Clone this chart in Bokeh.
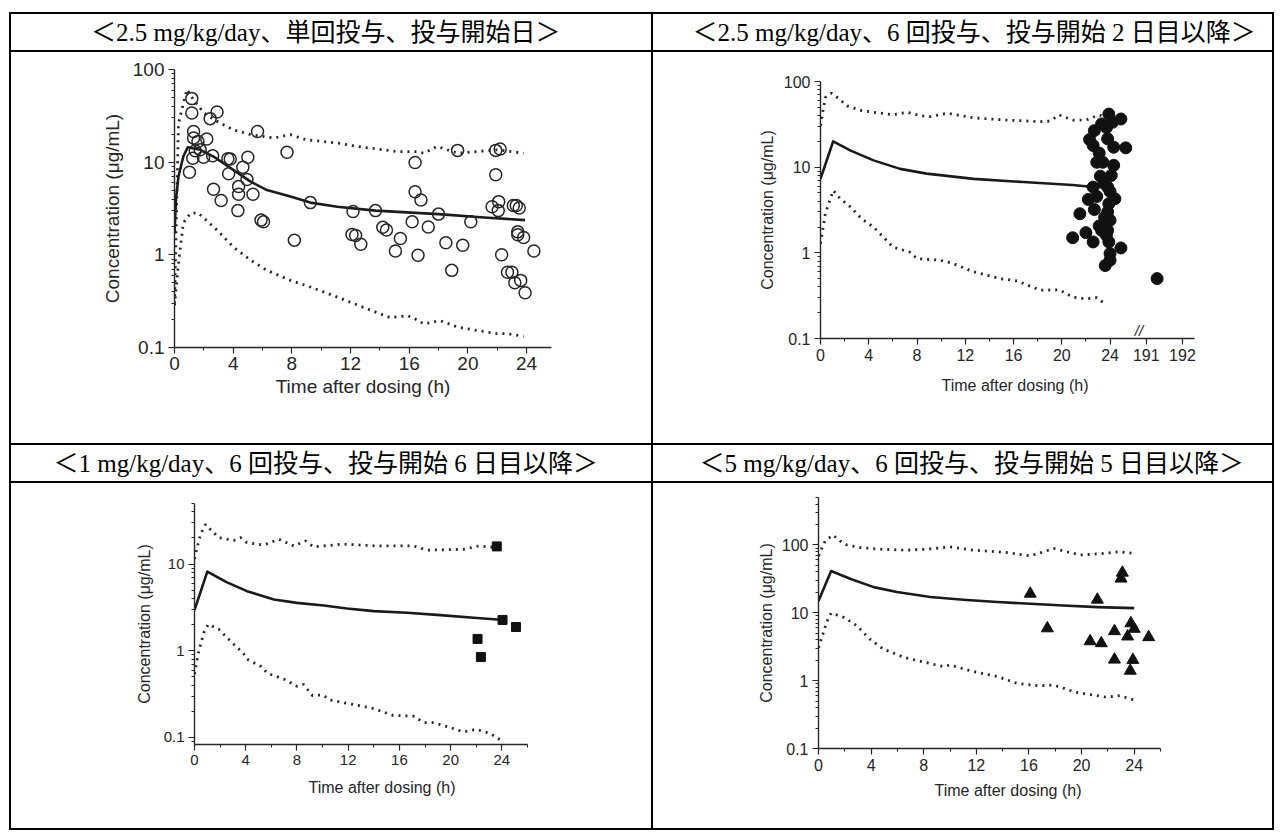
import numpy as np
from bokeh.plotting import figure
from bokeh.layouts import row, column
from bokeh.models import Range1d, FixedTicker, NumeralTickFormatter, Spacer, Label, Title
from bokeh.core.properties import value
from bokeh.embed import file_html
from bokeh.resources import INLINE

# ---------------- text ----------------
HEADERS = [
    "＜2.5 mg/kg/day、単回投与、投与開始日＞",
    "＜2.5 mg/kg/day、6 回投与、投与開始 2 日目以降＞",
    "＜1 mg/kg/day、6 回投与、投与開始 6 日目以降＞",
    "＜5 mg/kg/day、6 回投与、投与開始 5 日目以降＞",
]
X_TITLE = "Time after dosing (h)"
Y_TITLE = "Concentration (μg/mL)"
X_MAJOR = [0, 4, 8, 12, 16, 20, 24]

# ---------------- panel A : 2.5 mg/kg/day single dose ----------------
A_med_t = [0, 0.1, 0.27, 0.6, 0.9, 1.75, 2.66, 3.98, 5.16, 6.3, 7.9, 9.26, 11.1, 13.7, 18.0, 21.1, 23.9]
A_med_c = [1.7, 4.0, 7.0, 11.5, 14.5, 13.6, 11.5, 8.3, 6.2, 5.0, 4.25, 3.66, 3.3, 3.0, 2.75, 2.53, 2.37]
A_hi_t = [0, 0.27, 0.84, 1.3, 2.0, 2.9, 4.0, 5.2, 6.75, 7.9, 9.0, 11.1, 12.4, 13.8, 15.2, 16.5, 17.0, 17.9, 19.3, 20.6, 22.0, 23.8]
A_hi_c = [0.3, 26, 61, 47, 34, 27.6, 22.4, 19.8, 18.2, 19.8, 17.4, 16.1, 14.8, 13.9, 13.0, 13.0, 12.5, 14.8, 12.5, 13.0, 13.6, 12.5]
A_lo_t = [0, 0.27, 0.6, 1.07, 1.6, 2.9, 4.0, 5.2, 6.3, 7.9, 9.26, 11.1, 12.9, 14.7, 15.9, 16.5, 17.0, 18.1, 19.3, 20.6, 22.0, 22.7, 23.8]
A_lo_c = [0.285, 0.8, 2.2, 2.8, 2.85, 1.85, 1.22, 0.875, 0.68, 0.53, 0.45, 0.35, 0.27, 0.21, 0.22, 0.2, 0.18, 0.195, 0.166, 0.153, 0.141, 0.141, 0.132]
A_obs_t = [1.18, 1.18, 2.9, 2.43, 5.66, 1.3, 1.3, 1.6, 2.2, 1.75, 1.41, 1.25, 1.98, 1.02, 2.6, 3.64, 3.8, 5.0,
           4.66, 4.94, 3.69, 2.66, 3.18, 4.37, 4.37, 5.35, 4.32, 5.9, 6.07, 7.67, 8.17, 9.26, 12.17, 12.1, 12.35,
           12.7, 13.7, 14.2, 14.45, 15.4, 15.06, 16.2, 16.4, 16.4, 16.8, 16.6, 17.3, 18.0, 18.5, 18.9, 19.65,
           19.3, 20.2, 21.9, 22.2, 21.9, 21.65, 22.1, 22.07, 22.3, 22.7, 23.0, 23.2, 23.6, 23.9, 23.1, 23.3,
           23.5, 23.4, 23.4, 23.8, 24.5]
A_obs_c = [48.5, 34, 34.8, 29.5, 21.4, 21.4, 18.2, 16.7, 17.8, 13.6, 13.3, 11.0, 11.3, 7.8, 11.7, 10.9, 10.8, 11.3,
           8.8, 6.5, 7.5, 5.1, 3.85, 5.45, 4.5, 4.5, 3.0, 2.37, 2.27, 12.8, 1.44, 3.66, 2.93, 1.66, 1.62,
           1.3, 3.0, 1.98, 1.85, 1.5, 1.1, 2.27, 9.9, 4.8, 3.9, 0.99, 2.0, 2.75, 1.35, 0.68, 1.27,
           13.4, 2.27, 13.4, 13.9, 7.3, 3.3, 3.75, 3.0, 1.0, 0.65, 0.65, 0.5, 0.53, 0.39, 3.4, 3.4,
           3.2, 1.77, 1.65, 1.54, 1.1]

# ---------------- panel B : 2.5 mg/kg/day x6, day 2+ ----------------
B_med_t = [0, 1.05, 2.5, 4.4, 6.6, 8.8, 12.7, 16.8, 20.9, 22.2, 24.0]
B_med_c = [7.3, 20.0, 15.6, 12.0, 9.55, 8.4, 7.3, 6.7, 6.2, 5.95, 5.8]
B_hi_t = [0, 0.4, 0.9, 1.4, 2.2, 3.4, 4.4, 6.0, 7.2, 8.3, 9.1, 10.5, 12.7, 15.4, 18.2, 19.0, 19.8, 20.9, 22.0, 23.1, 23.7]
B_hi_c = [30.5, 65, 73, 65, 52, 45.7, 43.7, 41, 43.7, 39.8, 38.9, 42.6, 37.6, 35.5, 34, 34.5, 40.7, 35.5, 35.5, 40.7, 38.2]
B_lo_t = [0, 0.4, 1.05, 1.65, 2.5, 3.4, 4.4, 6.0, 7.4, 8.0, 9.9, 11.0, 12.7, 14.9, 16.3, 18.2, 19.8, 20.9, 22.0, 22.9, 23.7]
B_lo_c = [1.28, 2.86, 5.35, 4.27, 3.42, 2.5, 2.0, 1.17, 1.02, 0.855, 0.82, 0.75, 0.6, 0.5, 0.47, 0.366, 0.37, 0.305, 0.29, 0.3, 0.245]
B_obs_t = [20.9, 21.5, 22.0, 22.2, 22.3, 22.6, 22.6, 22.7, 22.7, 22.6, 22.9, 22.9, 23.1, 23.1, 23.2, 23.3, 23.4,
           23.55, 23.5, 23.6, 23.7, 23.7, 23.8, 23.8, 23.8, 23.9, 24.0, 24.0, 23.9, 23.8, 23.9, 24.0, 24.1, 24.2,
           24.3, 24.3, 24.4, 24.9, 24.9, 25.3, 24.0, 23.3, 191.3]
B_obs_c = [1.5, 2.86, 1.72, 4.2, 21, 1.34, 17.9, 26.7, 3.2, 5.85, 11.4, 4.55, 2.06, 14.6, 7.85, 32, 11.4,
           2.6, 6.5, 0.71, 1.6, 29, 21.4, 5.85, 3.0, 41.7, 0.98, 0.82, 1.34, 1.83, 3.74, 5.2, 8.0, 33.4,
           17.1, 10.5, 4.28, 1.14, 36.5, 16.8, 2.4, 1.83, 0.5]
B_late_ticks = [191, 192]

# ---------------- panel C : 1 mg/kg/day x6, day 6+ ----------------
C_med_t = [0, 1.0, 2.5, 4.1, 6.2, 8.0, 10.1, 11.9, 14.0, 16.6, 19.2, 21.8, 23.9]
C_med_c = [2.95, 8.2, 6.2, 4.87, 3.9, 3.57, 3.33, 3.08, 2.87, 2.75, 2.58, 2.41, 2.28]
C_hi_t = [0, 0.08, 0.47, 0.86, 1.25, 1.9, 3.07, 3.6, 4.1, 5.4, 6.6, 7.75, 8.66, 9.3, 11.6, 14.25, 17.1, 18.15, 21.0, 22.2, 23.6]
C_hi_c = [11.5, 13, 22, 28.7, 25, 20.2, 18.8, 20.2, 17.7, 16.6, 19.3, 16.2, 18.5, 15.8, 17, 16.2, 16.2, 14.5, 14.8, 16.2, 15.5]
C_lo_t = [0, 0.34, 0.73, 1.07, 1.9, 2.8, 3.85, 4.1, 5.2, 5.7, 7.0, 8.0, 8.5, 9.2, 10.0, 10.6, 12.4, 14.0, 15.5,
          17.1, 17.9, 18.7, 20.2, 21.0, 22.0, 23.1, 23.9]
C_lo_c = [0.54, 1.0, 1.62, 2.02, 1.77, 1.3, 0.92, 0.8, 0.66, 0.55, 0.47, 0.39, 0.41, 0.305, 0.31, 0.27, 0.24,
          0.215, 0.18, 0.176, 0.149, 0.148, 0.127, 0.116, 0.124, 0.111, 0.093]
C_obs_t = [23.6, 24.05, 25.1, 22.1, 22.36]
C_obs_c = [16.0, 2.27, 1.88, 1.37, 0.846]

# ---------------- panel D : 5 mg/kg/day x6, day 5+ ----------------
D_med_t = [0, 0.96, 2.4, 4.2, 5.96, 8.5, 11.0, 13.6, 16.1, 18.6, 21.2, 24.0]
D_med_c = [14.9, 41.3, 31.8, 23.9, 20.2, 17.1, 15.6, 14.4, 13.6, 12.8, 12.1, 11.7]
D_hi_t = [0, 0.5, 1.1, 1.65, 2.15, 3.2, 4.7, 6.7, 8.2, 10.0, 11.8, 14.3, 16.1, 17.9, 19.9, 21.9, 22.9, 24.0]
D_hi_c = [69, 114, 140, 114, 100, 91.5, 86.5, 83.7, 86.5, 93.5, 83.7, 77.3, 69, 88.4, 71, 75.5, 79.5, 74.6]
D_lo_t = [0, 0.38, 0.63, 0.96, 1.9, 2.9, 3.9, 4.9, 6.5, 7.5, 9.5, 10.0, 11.7, 13.6, 15.1, 16.7, 17.9, 19.6, 21.2, 21.9, 22.9, 24.0]
D_lo_c = [3.04, 5.2, 7.3, 9.9, 8.6, 6.5, 4.1, 2.94, 2.2, 1.98, 1.61, 1.7, 1.37, 1.15, 0.91, 0.84, 0.86, 0.67, 0.6, 0.57, 0.6, 0.52]
D_obs_t = [16.1, 17.4, 21.2, 20.65, 21.5, 22.5, 22.5, 23.1, 23.0, 23.75, 24.0, 23.5, 23.9, 23.7, 25.1]
D_obs_c = [19.1, 5.9, 15.6, 3.8, 3.56, 5.36, 2.04, 39.0, 31.9, 7.0, 5.8, 4.47, 2.02, 1.4, 4.37]

# ---------------- styling helpers ----------------
INK = "#262626"
SANS = "Liberation Sans"
SERIF = "Liberation Serif, Noto Sans CJK JP"
BLACK = {"background-color": "#000000"}


def minor_log(lo, hi):
    out = []
    d = 10.0 ** np.floor(np.log10(lo))
    while d < hi:
        for k in range(2, 10):
            v = round(d * k, 6)
            if lo <= v <= hi:
                out.append(v)
        d *= 10
    return out


def header(text, w, h, size, cx):
    p = figure(width=w, height=h, x_range=Range1d(0, 1), y_range=Range1d(0, 1), title=None,
               output_backend="svg", toolbar_location=None, min_border=0,
               x_axis_location=None, y_axis_location=None)
    p.grid.visible = False
    p.outline_line_color = None
    p.text(x=[cx], y=[0.5], text=[text], text_align="center", text_baseline="middle",
           text_font=value(SERIF), text_font_size=size, text_color="#000000")
    return p


def chart(w, h, bl, br, bt, bb, x_end, y_lo, y_hi, y_major, tick_px, lab_px,
          ylab_standoff, xlab_offset=None, xlab_standoff=0, x_major=X_MAJOR, overrides=None):
    p = figure(width=w, height=h, x_range=Range1d(0, x_end), y_range=Range1d(y_lo, y_hi), title=None,
               y_axis_type="log", output_backend="svg", toolbar_location=None,
               min_border_left=bl, min_border_right=br, min_border_top=bt, min_border_bottom=bb)
    p.outline_line_color = None
    p.grid.visible = False
    p.background_fill_color = "white"
    p.border_fill_color = "white"
    x_minor = [v + 2 for v in range(0, int(x_end) + 1, 4) if v + 2 <= x_end]
    p.xaxis.ticker = FixedTicker(ticks=x_major, minor_ticks=x_minor)
    p.yaxis.ticker = FixedTicker(ticks=y_major, minor_ticks=minor_log(y_lo, y_hi))
    p.yaxis.formatter = NumeralTickFormatter(format="0.[0]")
    if overrides:
        p.xaxis.major_label_overrides = overrides
    for ax in (p.xaxis[0], p.yaxis[0]):
        ax.axis_line_color = INK
        ax.axis_line_width = 1.4
        ax.major_tick_line_color = INK
        ax.minor_tick_line_color = INK
        ax.major_tick_line_width = 1.2
        ax.minor_tick_line_width = 1.0
        ax.major_tick_in = 0
        ax.major_tick_out = 6
        ax.minor_tick_in = 0
        ax.minor_tick_out = 3
        ax.major_label_text_font = SANS
        ax.major_label_text_font_size = tick_px
        ax.major_label_text_color = INK
        ax.major_label_standoff = 4
        ax.axis_label_text_font = SANS
        ax.axis_label_text_font_size = lab_px
        ax.axis_label_text_font_style = "normal"
        ax.axis_label_text_color = INK
    p.yaxis.axis_label = Y_TITLE
    p.yaxis.axis_label_standoff = ylab_standoff
    if xlab_offset is None:
        p.xaxis.axis_label = X_TITLE
        p.xaxis.axis_label_standoff = xlab_standoff
    else:
        p.add_layout(Title(text=X_TITLE, align="left", offset=xlab_offset, standoff=xlab_standoff,
                           vertical_align="top", text_font=SANS, text_font_size=lab_px,
                           text_font_style="normal", text_color=INK), "below")
    return p


def bands(p, hi_t, hi_c, lo_t, lo_c, med_t, med_c):
    for t, c in ((hi_t, hi_c), (lo_t, lo_c)):
        p.line(t, c, line_color=INK, line_width=2.8, line_dash="2 5")
    p.line(med_t, med_c, line_color="#1a1a1a", line_width=2.6, line_join="round")


# ---------------- panel A ----------------
pA = chart(640, 391, 163, 100, 17, 96, 25.7, 0.1, 100, [0.1, 1, 10, 100], "19px", "19px",
           7, xlab_offset=None, xlab_standoff=3)
pA.xaxis.major_label_standoff = 3
bands(pA, A_hi_t, A_hi_c, A_lo_t, A_lo_c, A_med_t, A_med_c)
pA.scatter(A_obs_t, A_obs_c, marker="circle", size=12, fill_color=None, line_color=INK, line_width=1.5)

# ---------------- panel B (broken time axis) ----------------
B_BREAK_AT = 26.4
B_LATE_START = 27.0
B_LATE_SCALE = 3.0


def b_pos(t):
    return t if t <= 24 + 2.5 else B_LATE_START + (t - B_late_ticks[0]) * B_LATE_SCALE


late_pos = [b_pos(t) for t in B_late_ticks]
pB = chart(619, 391, 167, 78, 29, 105, 31.0, 0.1, 100, [0.1, 1, 10, 100], "16px", "16px",
           5, xlab_offset=121, xlab_standoff=26, x_major=X_MAJOR + late_pos,
           overrides={lp: str(t) for lp, t in zip(late_pos, B_late_ticks)})
pB.xaxis.ticker.minor_ticks = [2, 6, 10, 14, 18, 22]
bands(pB, B_hi_t, B_hi_c, B_lo_t, B_lo_c, B_med_t, B_med_c)
pB.scatter([b_pos(t) for t in B_obs_t], B_obs_c, marker="circle", size=12,
           fill_color="#111111", line_color="#111111")
pB.add_layout(Label(x=B_BREAK_AT, y=0.1, text="//", text_align="center", text_baseline="bottom",
                    text_font=SANS, text_font_size="15px", text_font_style="italic", text_color=INK))

# ---------------- panel C ----------------
pC = chart(640, 345, 183, 124, 20, 84, 26, 0.083, 50, [0.1, 1, 10], "15px", "16px",
           8, xlab_offset=114, xlab_standoff=22)
bands(pC, C_hi_t, C_hi_c, C_lo_t, C_lo_c, C_med_t, C_med_c)
pC.scatter(C_obs_t, C_obs_c, marker="square", size=9, fill_color="#111111", line_color="#111111")

# ---------------- panel D ----------------
pD = chart(619, 345, 165, 112, 14, 80, 26, 0.1, 500, [0.1, 1, 10, 100], "16px", "16px",
           4, xlab_offset=116, xlab_standoff=16)
bands(pD, D_hi_t, D_hi_c, D_lo_t, D_lo_c, D_med_t, D_med_c)
pD.scatter(D_obs_t, D_obs_c, marker="triangle", size=12, fill_color="#111111", line_color="#111111")

# ---------------- table layout ----------------
hA = header(HEADERS[0], 640, 36, "25px", 0.491)
hB = header(HEADERS[1], 619, 36, "25px", 0.518)
hC = header(HEADERS[2], 640, 36, "25px", 0.491)
hD = header(HEADERS[3], 619, 36, "25px", 0.514)


def hline():
    return row(Spacer(width=9, height=2), Spacer(width=1265, height=2, styles=BLACK))


def vline(h):
    return Spacer(width=2, height=h, styles=BLACK)


def cells(a, b, h):
    return row(Spacer(width=9, height=h), vline(h), column(a), vline(h), column(b), vline(h))


root = column(
    Spacer(width=1274, height=12),
    hline(), cells(hA, hB, 36),
    hline(), cells(pA, pB, 391),
    hline(), cells(hC, hD, 36),
    hline(), cells(pC, pD, 345),
    hline(),
)

open("out.html", "w").write(file_html(root, INLINE))
